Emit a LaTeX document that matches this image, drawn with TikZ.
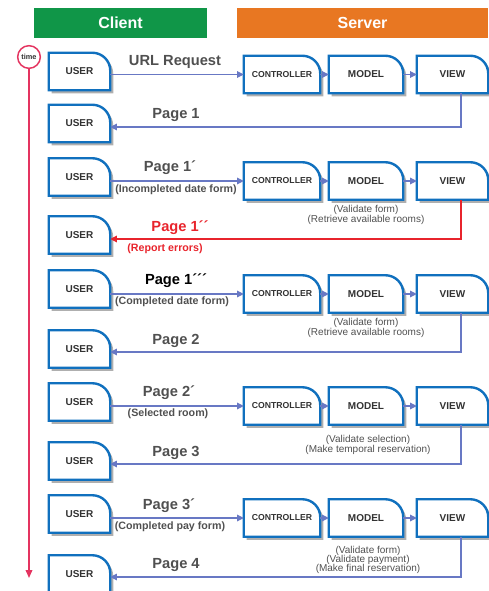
\documentclass[tikz,border=0pt]{standalone}
\usepackage{fontspec}
\setmainfont{Liberation Sans}
\usetikzlibrary{arrows.meta,backgrounds}
\definecolor{clientgreen}{RGB}{16,150,72}
\definecolor{serverorange}{RGB}{232,119,34}
\definecolor{boxblue}{RGB}{16,112,190}
\definecolor{flowblue}{RGB}{104,120,196}
\definecolor{errred}{RGB}{232,36,44}
\definecolor{timered}{RGB}{228,52,96}
\definecolor{labelgrey}{RGB}{80,80,80}
\definecolor{boxtext}{RGB}{50,50,50}
\definecolor{shadowgrey}{RGB}{175,175,175}
\tikzset{
  docbox/.style={inner sep=0pt, minimum height=27.75pt, text=boxtext, font=\fontsize{7.5}{9}\selectfont\bfseries},
  userbox/.style={docbox, minimum width=45.75pt},
  docshadow/.style={fill=shadowgrey},
  docframe/.style={fill=white, draw=boxblue, line width=1.8pt},
  fwd/.style={flowblue, line width=0.8pt, -{Triangle[length=5pt,width=5pt]}},
  ret/.style={fwd},
  pagelabel/.style={font=\fontsize{11}{13}\selectfont\bfseries, text=labelgrey, inner sep=0pt},
  sublabel/.style={font=\fontsize{8}{9}\selectfont\bfseries, text=labelgrey, inner sep=0pt},
  notelabel/.style={font=\fontsize{7.5}{7}\selectfont, text=labelgrey, align=center, inner sep=0pt},
  header/.style={text=white, font=\fontsize{12}{14}\selectfont\bfseries, minimum height=22.5pt, inner sep=0pt}
}
\begin{document}
\begin{tikzpicture}[x=0.75pt,y=0.75pt,yscale=-1,xscale=1]
\useasboundingbox (0,0) rectangle (488,591);
% Headers
\node[header, fill=clientgreen, minimum width=129.75pt] (client) at (120.5,23) {Client};
\node[header, fill=serverorange, minimum width=188.25pt] (server) at (362.5,23) {Server};
% Time axis
\node[circle, draw=timered, line width=1.1pt, fill=white, minimum size=17pt, inner sep=0pt,
      font=\fontsize{5.5}{6}\selectfont\bfseries, text=boxtext] (time) at (29,57) {time};
\coordinate (tend) at (29,578);
\draw[timered, line width=1pt, -{Triangle[length=6pt,width=5pt]}] (time.south) -- (tend);
% Rows: request, server chain, response
\foreach \i/\ya/\y/\r/\yb/\col in {1/71.5/74.5/127/123.5/flowblue, 2/177/181/239/235/errred,
    3/289/294/352/349/flowblue, 4/402/406/464/461/flowblue, 5/514/518/577/574/flowblue}{
  \node[userbox] (ua\i) at (79.5,\ya) {USER};
  \node[userbox] (ub\i) at (79.5,\yb) {USER};
  \node[docbox, minimum width=57pt, font=\fontsize{6.5}{8}\selectfont\bfseries] (c\i) at (282,\y) {CONTROLLER};
  \node[docbox, minimum width=55.5pt] (m\i) at (366,\y) {MODEL};
  \node[docbox, minimum width=53.25pt] (v\i) at (452.5,\y) {VIEW};
  \coordinate (r\i) at (461,\r);
  \draw[fwd] (ua\i.east |- c\i.west) -- (c\i.west);
  \draw[fwd] (c\i) -- (m\i);
  \draw[fwd] (m\i) -- (v\i);
  \draw[ret, \col] (r\i |- v\i.south) -- (r\i) -- (r\i -| ub\i.east);
}
% Document shaped boxes
\begin{scope}[on background layer]
\foreach \k in {ua,ub,c,m,v}{
  \foreach \i in {1,...,5}{
    \foreach \d/\sty in {3/docshadow,0/docframe}{
      \path[\sty] ([shift={(\d,\d)}]\k\i.south west) -- ([shift={(\d,\d)}]\k\i.north west)
        -- ([shift={(\d-18,\d)}]\k\i.north east)
        .. controls ([shift={(\d-8,\d)}]\k\i.north east) and ([shift={(\d,\d+8)}]\k\i.north east)
        .. ([shift={(\d,\d+18)}]\k\i.north east) -- ([shift={(\d,\d)}]\k\i.south east) -- cycle;
    }
  }
}
\end{scope}
% Text Node
\node[pagelabel] (lurl) at (175,62) {URL Request};
\node[pagelabel] (lp1) at (176,115) {Page 1};
% Text Node
\node[pagelabel] (lp1a) at (170,168) {Page 1´};
\node[sublabel] (lp1as) at (176,190) {(Incompleted date form)};
\node[pagelabel, text=errred] (lp1b) at (180,228) {Page 1´´};
\node[sublabel, text=errred] (lp1bs) at (165,249) {(Report errors)};
% Text Node
\node[pagelabel, text=black] (lp1c) at (176,281) {Page 1´´´};
\node[sublabel] (lp1cs) at (172,302) {(Completed date form)};
\node[pagelabel] (lp2) at (176,341) {Page 2};
% Text Node
\node[pagelabel] (lp2a) at (169,393) {Page 2´};
\node[sublabel] (lp2as) at (168,414) {(Selected room)};
\node[pagelabel] (lp3) at (176,453) {Page 3};
% Text Node
\node[pagelabel] (lp3a) at (169,506) {Page 3´};
\node[sublabel] (lp3as) at (170,527) {(Completed pay form)};
\node[pagelabel] (lp4) at (176,565) {Page 4};
% Server notes
\node[notelabel] (n2) at (366,215) {(Validate form)\\(Retrieve available rooms)};
\node[notelabel] (n3) at (366,328) {(Validate form)\\(Retrieve available rooms)};
\node[notelabel] (n4) at (368,445) {(Validate selection)\\(Make temporal reservation)};
\node[notelabel] (n5) at (368,560) {(Validate form)\\(Validate payment)\\(Make final reservation)};
\end{tikzpicture}
\end{document}
